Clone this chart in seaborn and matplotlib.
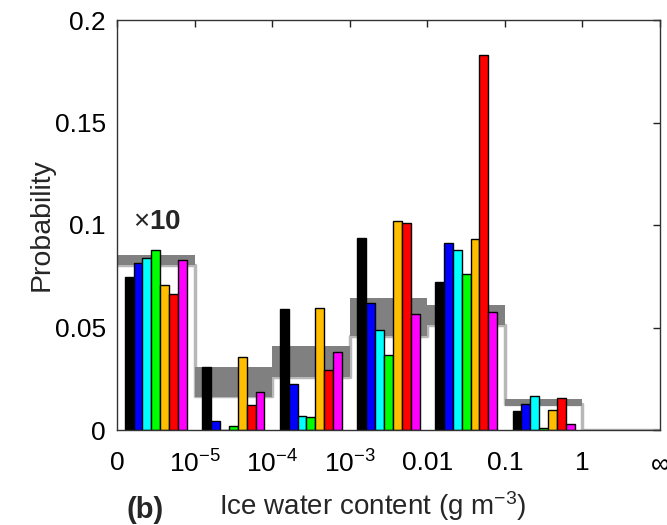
import numpy as np
import pandas as pd
import seaborn as sns
import matplotlib.pyplot as plt

# bins of ice water content (bin 0 is scaled x10 in the figure)
bin_centers = [0.5, 1.5, 2.5, 3.5, 4.5, 5.5]
series = ["S1", "S2", "S3", "S4", "S5", "S6", "S7"]
colors = ["#000000", "#0000ff", "#00ffff", "#00ff00", "#ffbf00", "#ff0000", "#ff00ff"]

# probability per bin for each series
s1 = [0.0745, 0.0309, 0.0590, 0.0938, 0.0724, 0.0093]
s2 = [0.0816, 0.0044, 0.0226, 0.0618, 0.0911, 0.0127]
s3 = [0.0841, 0.0, 0.0070, 0.0486, 0.0878, 0.0166]
s4 = [0.0877, 0.0020, 0.0062, 0.0364, 0.0761, 0.0010]
s5 = [0.0706, 0.0355, 0.0597, 0.1020, 0.0930, 0.0098]
s6 = [0.0663, 0.0122, 0.0293, 0.1008, 0.1830, 0.0154]
s7 = [0.0831, 0.0184, 0.0382, 0.0566, 0.0577, 0.0028]

# reference range (grey band) and reference step line, bins 0..6
bin_edges = [0, 1, 2, 3, 4, 5, 6, 7]
band_lo = [0.0805, 0.0161, 0.0260, 0.0460, 0.0510, 0.0118, 0.0]
band_hi = [0.0854, 0.0307, 0.0410, 0.0644, 0.0610, 0.0151, 0.0]
ref_line = [0.0805, 0.0165, 0.0260, 0.0460, 0.0510, 0.0125, 0.0]

xtick_labels = ["0", r"$10^{-5}$", r"$10^{-4}$", r"$10^{-3}$", "0.01", "0.1", "1", r"$\infty$"]
ytick_vals = [0, 0.05, 0.1, 0.15, 0.2]
ytick_labels = ["0", "0.05", "0.1", "0.15", "0.2"]

rows = []
for name, vals in zip(series, [s1, s2, s3, s4, s5, s6, s7]):
    for x, v in zip(bin_centers, vals):
        rows.append({"bin": x, "series": name, "prob": v})
df = pd.DataFrame(rows)

sns.set_style("white")
plt.rcParams["font.family"] = ["Liberation Sans", "DejaVu Sans"]
plt.rcParams["mathtext.fontset"] = "custom"
plt.rcParams["mathtext.rm"] = "Liberation Sans"
plt.rcParams["mathtext.it"] = "Liberation Sans:italic"
plt.rcParams["mathtext.bf"] = "Liberation Sans:bold"

fig = plt.figure(figsize=(6.67, 5.25), dpi=100)
ax = fig.add_axes([117 / 667, 95 / 525, 543 / 667, 410 / 525])

lo = band_lo + [band_lo[-1]]
hi = band_hi + [band_hi[-1]]
ln = ref_line + [ref_line[-1]]
ax.step(bin_edges, ln, where="post", color="#b8b8b8", lw=2.5, zorder=0.5)
ax.fill_between(bin_edges, lo, hi, step="post", color="#808080", lw=0, zorder=0.6)

sns.barplot(data=df, x="bin", y="prob", hue="series", palette=colors,
            native_scale=True, width=0.8, saturation=1, edgecolor="black",
            linewidth=1, legend=False, ax=ax, zorder=2)

ax.set_xlim(0, 7)
ax.set_ylim(0, 0.2)
ax.set_xticks(range(8))
ax.set_xticklabels(xtick_labels)
ax.set_yticks(ytick_vals)
ax.set_yticklabels(ytick_labels)
ax.tick_params(direction="in", length=5, width=1, top=True, right=True,
               labelsize=19, colors="#222222", labelcolor="black")
ax.tick_params(axis="x", pad=15)
ax.tick_params(axis="y", pad=8)
for sp in ax.spines.values():
    sp.set_color("#333333")
    sp.set_linewidth(1)

ax.set_xlabel(r"Ice water content (g m$^{-3}$)", fontsize=20)
ax.xaxis.set_label_coords(0.47, -0.145)
ax.set_ylabel("Probability", fontsize=20.5)
ax.yaxis.set_label_coords(-0.114, 0.5)

ax.text(0.2, 0.1015, r"$\times\mathbf{10}$", fontsize=20, ha="left", va="center")
fig.text(145 / 667, 1 - 510 / 525, "(b)", fontsize=21, fontweight="bold",
         ha="center", va="center")

fig.savefig("out.png", dpi=100)
